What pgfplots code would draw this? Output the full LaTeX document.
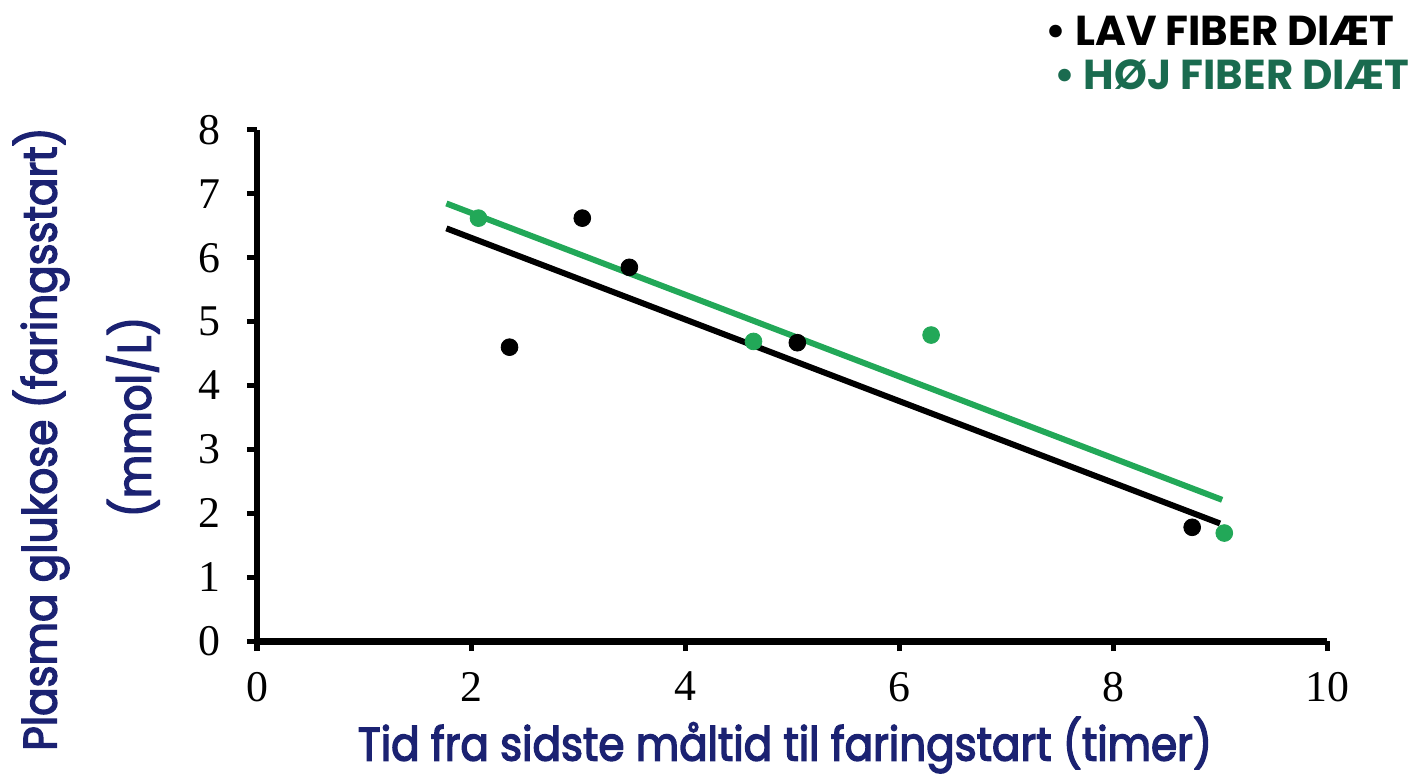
\documentclass[border=0pt]{standalone}
\usepackage{fontspec}
\usepackage{pgfplots}
\pgfplotsset{compat=1.18}
\setmainfont{Liberation Serif}
\newfontfamily\pop{Poppins}
\newfontfamily\poplab[FakeStretch=0.9, FakeBold=3]{Poppins}
\definecolor{navy}{HTML}{1B2272}
\definecolor{fitgreen}{HTML}{22A858}
\definecolor{leggreen}{HTML}{1A6B4F}
\begin{document}
\begin{tikzpicture}
\useasboundingbox (-128.5bp,-67bp) rectangle (579.5bp,320.5bp);
\begin{axis}[
  at={(0,0)}, anchor=origin,
  scale only axis, width=535bp, height=255.5bp,
  xmin=0, xmax=10, ymin=0, ymax=8,
  axis lines=left,
  axis line style={-, line width=2.5bp},
  x axis line style={line width=3.5bp},
  xtick={0,2,...,10}, ytick={0,1,...,8},
  tick align=outside, major tick length=5bp,
  tick style={line width=2.5bp, black},
  ticklabel style={font=\fontsize{22}{22}\selectfont},
  /pgf/number format/assume math mode=true,
  yticklabel style={xshift=-10bp},
  xticklabel style={yshift=-7bp},
  clip=false,
]
% fitted trend lines
\addplot[black, line width=3bp] coordinates {(1.77,6.46) (9.0,1.84)};
\addplot[fitgreen, line width=3bp] coordinates {(1.77,6.85) (9.02,2.21)};
% low fibre diet
\addplot[only marks, mark=*, mark size=4.2bp, black] coordinates {
  (2.36,4.60) (3.04,6.62) (3.48,5.85) (5.05,4.67) (8.74,1.78)};
% high fibre diet
\addplot[only marks, mark=*, mark size=4.2bp, fitgreen, mark options={draw=fitgreen, fill=fitgreen}] coordinates {
  (2.07,6.62) (4.64,4.69) (6.30,4.79) (9.04,1.69)};
\end{axis}
% axis titles
\node[rotate=90, text=navy, inner sep=0pt, font=\poplab\fontsize{23.5}{23.5}\selectfont] at (-108bp,101bp) {Plasma glukose (faringsstart)};
\node[rotate=90, text=navy, inner sep=0pt, font=\poplab\fontsize{23.5}{23.5}\selectfont] at (-62bp,112bp) {(mmol/L)};
\node[text=navy, inner sep=0pt, font=\poplab\fontsize{23.5}{23.5}\selectfont] at (264bp,-52bp) {Tid fra sidste måltid til faringstart (timer)};
% legend
\node[anchor=east, inner sep=0pt, text=black, font=\pop\bfseries\fontsize{21}{21}\selectfont] at (569bp,305bp) {\textbullet\ LAV FIBER DIÆT};
\node[anchor=east, inner sep=0pt, text=leggreen, font=\pop\bfseries\fontsize{21}{21}\selectfont] at (576.5bp,283bp) {\textbullet\ HØJ FIBER DIÆT};
\end{tikzpicture}
\end{document}
